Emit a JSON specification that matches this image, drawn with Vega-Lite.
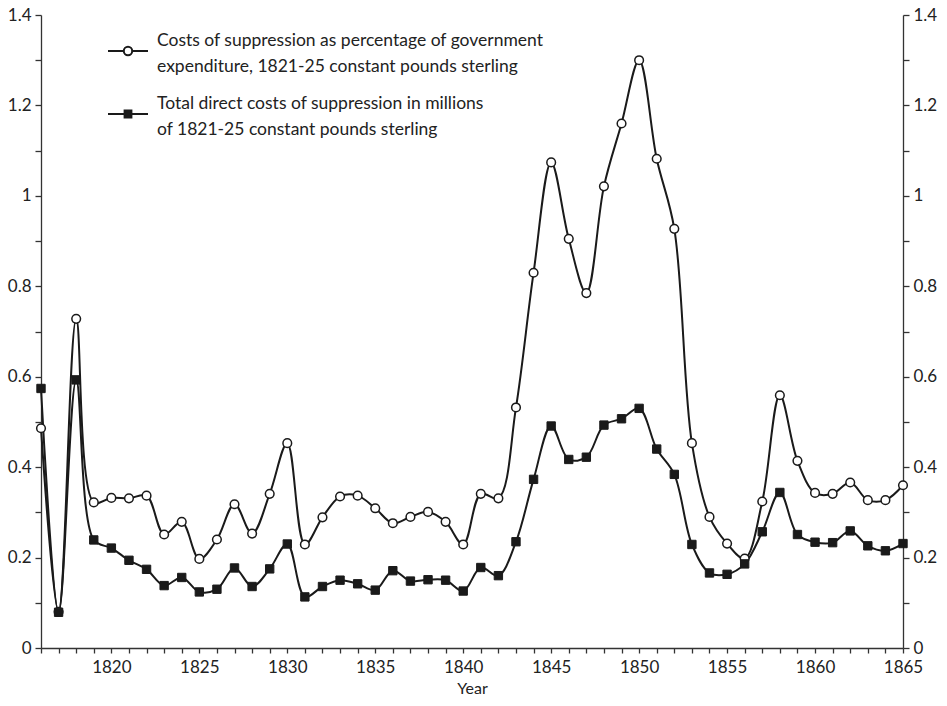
{
  "$schema": "https://vega.github.io/schema/vega-lite/v6.json",
  "width": 862,
  "height": 633,
  "autosize": {"type": "none"},
  "padding": {"left": 41, "top": 15, "right": 44, "bottom": 58},
  "background": "white",
  "config": {
    "view": {"stroke": null},
    "font": "Lato",
    "axis": {
      "labelFont": "Lato", "labelFontSize": 17, "labelColor": "#222", "domainColor": "#333", "tickColor": "#333",
      "domainWidth": 1.3, "tickWidth": 1.3, "grid": false, "titleFont": "Lato", "titleFontWeight": "normal", "titleColor": "#222"
    }
  },
  "data": {"values": [
    {"year": 1816, "pct": 0.486, "total": 0.574},
    {"year": 1817, "pct": 0.08, "total": 0.079},
    {"year": 1818, "pct": 0.728, "total": 0.593},
    {"year": 1819, "pct": 0.322, "total": 0.239},
    {"year": 1820, "pct": 0.332, "total": 0.221},
    {"year": 1821, "pct": 0.331, "total": 0.194},
    {"year": 1822, "pct": 0.337, "total": 0.174},
    {"year": 1823, "pct": 0.251, "total": 0.138},
    {"year": 1824, "pct": 0.279, "total": 0.156},
    {"year": 1825, "pct": 0.197, "total": 0.124},
    {"year": 1826, "pct": 0.240, "total": 0.130},
    {"year": 1827, "pct": 0.318, "total": 0.177},
    {"year": 1828, "pct": 0.253, "total": 0.136},
    {"year": 1829, "pct": 0.341, "total": 0.175},
    {"year": 1830, "pct": 0.453, "total": 0.230},
    {"year": 1831, "pct": 0.229, "total": 0.113},
    {"year": 1832, "pct": 0.289, "total": 0.136},
    {"year": 1833, "pct": 0.335, "total": 0.150},
    {"year": 1834, "pct": 0.337, "total": 0.142},
    {"year": 1835, "pct": 0.309, "total": 0.128},
    {"year": 1836, "pct": 0.276, "total": 0.171},
    {"year": 1837, "pct": 0.290, "total": 0.148},
    {"year": 1838, "pct": 0.301, "total": 0.151},
    {"year": 1839, "pct": 0.279, "total": 0.150},
    {"year": 1840, "pct": 0.229, "total": 0.126},
    {"year": 1841, "pct": 0.341, "total": 0.178},
    {"year": 1842, "pct": 0.331, "total": 0.160},
    {"year": 1843, "pct": 0.532, "total": 0.235},
    {"year": 1844, "pct": 0.830, "total": 0.373},
    {"year": 1845, "pct": 1.074, "total": 0.491},
    {"year": 1846, "pct": 0.905, "total": 0.417},
    {"year": 1847, "pct": 0.785, "total": 0.422},
    {"year": 1848, "pct": 1.021, "total": 0.493},
    {"year": 1849, "pct": 1.160, "total": 0.507},
    {"year": 1850, "pct": 1.300, "total": 0.530},
    {"year": 1851, "pct": 1.082, "total": 0.440},
    {"year": 1852, "pct": 0.927, "total": 0.384},
    {"year": 1853, "pct": 0.453, "total": 0.229},
    {"year": 1854, "pct": 0.290, "total": 0.166},
    {"year": 1855, "pct": 0.231, "total": 0.163},
    {"year": 1856, "pct": 0.198, "total": 0.186},
    {"year": 1857, "pct": 0.324, "total": 0.257},
    {"year": 1858, "pct": 0.559, "total": 0.344},
    {"year": 1859, "pct": 0.414, "total": 0.251},
    {"year": 1860, "pct": 0.343, "total": 0.234},
    {"year": 1861, "pct": 0.341, "total": 0.233},
    {"year": 1862, "pct": 0.366, "total": 0.259},
    {"year": 1863, "pct": 0.327, "total": 0.226},
    {"year": 1864, "pct": 0.327, "total": 0.215},
    {"year": 1865, "pct": 0.360, "total": 0.231}
  ]},
  "encoding": {
    "x": {
      "field": "year", "type": "quantitative",
      "scale": {"domain": [1816, 1865], "nice": false, "zero": false},
      "axis": {
        "title": "Year", "titleFontSize": 16, "titlePadding": 5,
        "values": [1816,1817,1818,1819,1820,1821,1822,1823,1824,1825,1826,1827,1828,1829,1830,1831,1832,1833,1834,1835,1836,1837,1838,1839,1840,1841,1842,1843,1844,1845,1846,1847,1848,1849,1850,1851,1852,1853,1854,1855,1856,1857,1858,1859,1860,1861,1862,1863,1864,1865],
        "labelExpr": "datum.value % 5 == 0 ? format(datum.value, 'd') : ''",
        "tickSize": 5, "labelPadding": 6, "labelFlush": false, "labelOverlap": false
      }
    }
  },
  "layer": [
    {
      "transform": [{"fold": ["pct", "total"], "as": ["series", "value"]}],
      "encoding": {
        "y": {
          "field": "value", "type": "quantitative",
          "scale": {"domain": [0, 1.4], "nice": false},
          "axis": {
            "title": null, "orient": "left",
            "values": [0, 0.1, 0.2, 0.3, 0.4, 0.5, 0.6, 0.7, 0.8, 0.9, 1.0, 1.1, 1.2, 1.3, 1.4],
            "labelExpr": "round(datum.value * 10) % 2 == 0 ? format(datum.value, '.1~f') : ''",
            "tickSize": 6, "labelPadding": 4, "labelFlush": false, "labelOverlap": false
          }
        }
      },
      "layer": [
        {
          "mark": {"type": "line", "interpolate": "catmull-rom", "stroke": "#1a1a1a", "strokeWidth": 2},
          "encoding": {"detail": {"field": "series"}}
        },
        {
          "transform": [{"filter": "datum.series == 'pct'"}],
          "mark": {"type": "point", "shape": "circle", "filled": true, "fill": "white", "stroke": "#1a1a1a", "strokeWidth": 1.5, "size": 75, "opacity": 1}
        },
        {
          "transform": [{"filter": "datum.series == 'total'"}],
          "mark": {"type": "point", "shape": "square", "filled": true, "fill": "#1a1a1a", "stroke": "#1a1a1a", "strokeWidth": 1, "size": 70, "opacity": 1}
        },
        {
          "mark": {"type": "point", "filled": true, "opacity": 0},
          "encoding": {
            "shape": {
              "field": "series", "type": "nominal",
              "scale": {"domain": ["pct", "total"], "range": [
                "M-0.21,0 A0.21,0.21 0 1,0 0.21,0 A0.21,0.21 0 1,0 -0.21,0 Z M-1,0 L-0.21,0 M0.21,0 L1,0",
                "M-0.17,-0.17 L0.17,-0.17 L0.17,0.17 L-0.17,0.17 Z M-1,0 L-0.17,0 M0.17,0 L1,0"
              ]},
              "legend": {
                "title": null, "orient": "none", "legendX": 66, "legendY": 15, "direction": "vertical",
                "symbolSize": 1600, "symbolStrokeWidth": 2, "symbolStrokeColor": "#1a1a1a", "symbolOpacity": 1,
                "labelFont": "Lato", "labelFontSize": 17.5, "labelColor": "#222", "labelOffset": 8, "labelLimit": 600,
                "rowPadding": 17, "padding": 0, "labelBaseline": "top",
                "labelExpr": "datum.label == 'pct' ? ['Costs of suppression as percentage of government', 'expenditure, 1821-25 constant pounds sterling'] : ['Total direct costs of suppression in millions', 'of 1821-25 constant pounds sterling']",
                "encode": {
                  "labels": {"update": {"lineHeight": {"value": 26}, "dy": {"value": -19}}}
                }
              }
            },
            "fill": {
              "field": "series", "type": "nominal",
              "scale": {"domain": ["pct", "total"], "range": ["white", "#1a1a1a"]},
              "legend": {
                "title": null, "orient": "none", "legendX": 66, "legendY": 15, "direction": "vertical",
                "symbolSize": 1600, "symbolStrokeWidth": 2, "symbolStrokeColor": "#1a1a1a", "symbolOpacity": 1,
                "labelFont": "Lato", "labelFontSize": 17.5, "labelColor": "#222", "labelOffset": 8, "labelLimit": 600,
                "rowPadding": 17, "padding": 0, "labelBaseline": "top",
                "labelExpr": "datum.label == 'pct' ? ['Costs of suppression as percentage of government', 'expenditure, 1821-25 constant pounds sterling'] : ['Total direct costs of suppression in millions', 'of 1821-25 constant pounds sterling']",
                "encode": {
                  "labels": {"update": {"lineHeight": {"value": 26}, "dy": {"value": -19}}}
                }
              }
            }
          }
        }
      ]
    },
    {
      "mark": {"type": "point", "opacity": 0},
      "encoding": {
        "y": {
          "field": "pct", "type": "quantitative",
          "scale": {"domain": [0, 1.4], "nice": false},
          "axis": {
            "title": null, "orient": "right",
            "values": [0, 0.1, 0.2, 0.3, 0.4, 0.5, 0.6, 0.7, 0.8, 0.9, 1.0, 1.1, 1.2, 1.3, 1.4],
            "labelExpr": "round(datum.value * 10) % 2 == 0 ? format(datum.value, '.1~f') : ''",
            "tickSize": 6, "labelPadding": 4, "labelFlush": false, "labelOverlap": false
          }
        }
      }
    }
  ],
  "resolve": {"scale": {"y": "independent"}}
}
